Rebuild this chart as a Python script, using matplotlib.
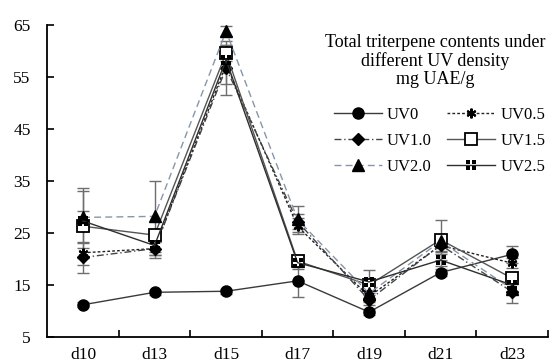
import matplotlib
matplotlib.use("Agg")
import matplotlib.pyplot as plt
from matplotlib.path import Path
import numpy as np

plt.rcParams['font.family'] = ['Liberation Serif', 'DejaVu Serif']

days = ["d10", "d13", "d15", "d17", "d19", "d21", "d23"]
series_names = ["UV0", "UV0.5", "UV1.0", "UV1.5", "UV2.0", "UV2.5"]

uv0 = [11.2, 13.6, 13.8, 15.8, 9.8, 17.4, 20.9]
uv05 = [21.2, 22.0, 57.4, 26.3, 12.8, 22.6, 19.2]
uv10 = [20.3, 22.0, 56.7, 27.2, 12.1, 22.7, 13.7]
uv15 = [26.3, 24.6, 59.6, 19.6, 15.0, 23.7, 16.3]
uv20 = [28.0, 28.2, 63.8, 27.6, 13.4, 23.4, 14.2]
uv25 = [27.3, 22.6, 58.3, 19.3, 15.6, 19.8, 15.0]

uv0_err = [0.5, 0.5, 0.5, 3.2, 0.5, 0.6, 1.6]
uv05_err = [1.0, 1.2, 3.7, 1.5, 1.0, 1.2, 1.0]
uv10_err = [2.9, 1.2, 5.2, 1.5, 1.0, 1.2, 2.2]
uv15_err = [7.4, 1.0, 1.5, 1.2, 1.0, 3.8, 1.2]
uv20_err = [5.0, 6.8, 1.0, 2.5, 1.0, 1.2, 1.0]
uv25_err = [2.0, 2.4, 1.5, 1.2, 2.2, 1.2, 1.2]

yticks = [5, 15, 25, 35, 45, 55, 65]

# four small squares forming a quartered block marker
def quad_marker():
    verts, codes = [], []
    g = 0.14
    for cx, cy in [(-1, -1), (1, -1), (-1, 1), (1, 1)]:
        x0 = g if cx > 0 else -1
        x1 = 1 if cx > 0 else -g
        y0 = g if cy > 0 else -1
        y1 = 1 if cy > 0 else -g
        verts += [(x0, y0), (x1, y0), (x1, y1), (x0, y1), (x0, y0)]
        codes += [Path.MOVETO, Path.LINETO, Path.LINETO, Path.LINETO, Path.CLOSEPOLY]
    return Path(verts, codes)

styles = [
    dict(color="#3a3a3a", ls="-", marker="o", mfc="black", mec="black", ms=8, lw=1.0),
    dict(color="#222222", ls=(0, (2, 1.5)), marker=(6, 2, 0), mfc="black", mec="black", ms=7, lw=1.0, mew=1.5),
    dict(color="#444444", ls=(0, (5, 2, 1, 2)), marker="D", mfc="black", mec="black", ms=6, lw=1.0),
    dict(color="#555555", ls="-", marker="s", mfc="white", mec="black", ms=8, lw=1.0, mew=1.3),
    dict(color="#8795aa", ls=(0, (5, 3)), marker="^", mfc="black", mec="black", ms=8, lw=1.0),
    dict(color="#2e2e2e", ls="-", marker=quad_marker(), mfc="black", mec="black", ms=7, lw=1.0, mew=0),
]

values = [uv0, uv05, uv10, uv15, uv20, uv25]
errors = [uv0_err, uv05_err, uv10_err, uv15_err, uv20_err, uv25_err]

fig = plt.figure(figsize=(5.5, 3.62), dpi=100)
ax = fig.add_axes([0.086, 0.069, 0.91, 0.862])

x = np.arange(len(days))
handles = []
for name, vals, errs, st in zip(series_names, values, errors, styles):
    ax.errorbar(x, vals, yerr=errs, fmt="none", ecolor="#6e6e6e", elinewidth=1.0,
                capsize=4, capthick=1.0, zorder=2)
    h, = ax.plot(x, vals, label=name, zorder=3, **st)
    handles.append(h)

ax.set_xlim(-0.5, len(days) - 0.5)
ax.set_ylim(5, 65)
ax.set_yticks(yticks)
ax.set_xticks(x)
ax.set_xticklabels(days, fontsize=12.5)
ax.set_yticklabels([str(v) for v in yticks], fontsize=12.5)
ax.tick_params(axis="x", which="major", length=0, pad=7)
ax.set_xticks(np.arange(0.5, len(days) - 0.5 + 0.01, 1), minor=True)
ax.tick_params(axis="x", which="minor", direction="in", length=5, width=1.2)
ax.tick_params(axis="y", direction="in", length=5, width=1.2, pad=12)
for s in ["top", "right"]:
    ax.spines[s].set_visible(False)
for s in ["left", "bottom"]:
    ax.spines[s].set_linewidth(1.3)

order = [0, 2, 4, 1, 3, 5]
leg = ax.legend([handles[i] for i in order], [series_names[i] for i in order],
                ncol=2, frameon=False, fontsize=12, loc="upper right",
                bbox_to_anchor=(1.018, 1.01), handlelength=2.9, columnspacing=0.9,
                handletextpad=0.3, labelspacing=0.6, borderpad=0.2,
                title="Total triterpene contents under\ndifferent UV density\nmg UAE/g",
                title_fontsize=13)
leg._legend_box.align = "right"
leg._legend_box.sep = 14
leg.get_title().set_multialignment("center")
leg.get_title().set_linespacing(1.08)

fig.savefig("out.png", dpi=100)
